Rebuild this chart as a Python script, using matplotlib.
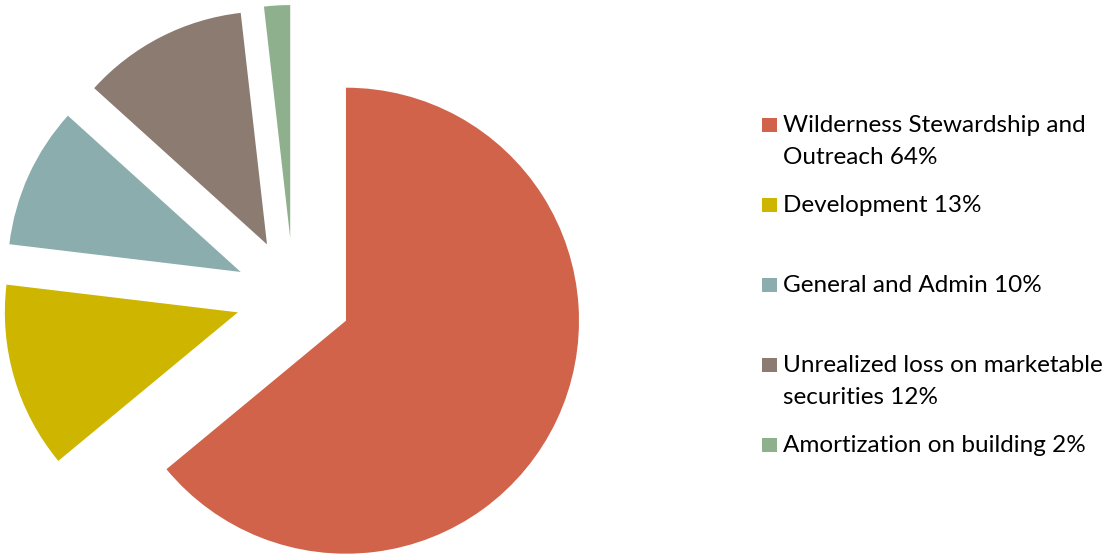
import matplotlib.pyplot as plt
from matplotlib.patches import Rectangle

# data (slice shares; labels carry the rounded percentages)
labels = ['Wilderness Stewardship and\nOutreach 64%', 'Development 13%', 'General and Admin 10%',
          'Unrealized loss on marketable\nsecurities 12%', 'Amortization on building 2%']
values = [64.0, 12.9, 9.8, 11.5, 1.8]
colors = ['#D0634A', '#CDB500', '#8BADAE', '#8B7B70', '#8FB08C']

W, H = 1110, 554
plt.rcParams['font.family'] = ['Lato', 'DejaVu Sans']

fig = plt.figure(figsize=(W / 100, H / 100), dpi=100)
ax = fig.add_axes([0, 0, 1, 1])

# pie drawn in pixel coordinates (y up); explode is in data units here
ax.pie(values, colors=colors, startangle=90, counterclock=False,
       explode=[58] * len(values), radius=233, center=(293.5, H - 296),
       wedgeprops=dict(linewidth=0))
ax.set_xlim(0, W)
ax.set_ylim(0, H)
ax.set_aspect('equal')
ax.axis('off')

# legend drawn by hand
legend_y = [125, 205, 285, 365, 445]
for lab, col, y in zip(labels, colors, legend_y):
    ax.add_patch(Rectangle((762, H - y - 7), 15, 14, color=col, linewidth=0))
    for i, line in enumerate(lab.split('\n')):
        ax.text(783, H - y - i * 32, line, fontsize=17.5, va='center', ha='left', color='#000000')

fig.savefig('out.png', dpi=100)
